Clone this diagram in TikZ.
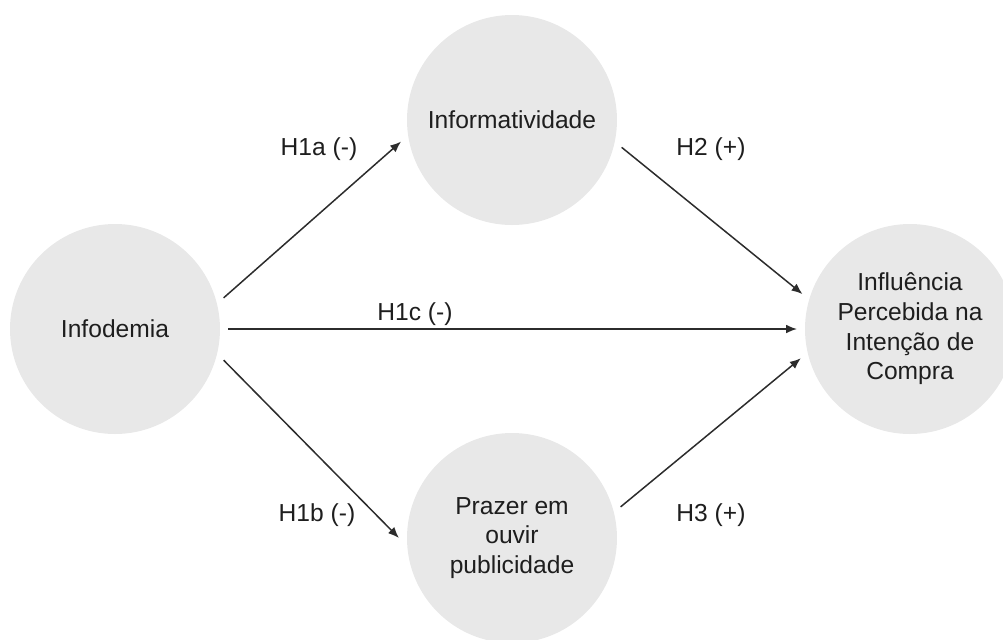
\documentclass[tikz,border=0pt]{standalone}
\usepackage{fontspec}
\setmainfont{Liberation Sans}
\usetikzlibrary{arrows.meta}
\definecolor{circlegray}{HTML}{E8E8E8}
\definecolor{textgray}{HTML}{1E1E1E}
\definecolor{linegray}{HTML}{2C2C2C}
\tikzset{
  construct/.style={align=center,circle,fill=circlegray,text=textgray,font=\fontsize{12.3}{14.85}\selectfont,minimum size=105pt,inner sep=0pt,outer sep=4pt},
  hyp/.style={align=center,text=textgray,font=\fontsize{12.3}{14.85}\selectfont},
  hypline/.style={-{Latex[length=5.5pt,width=4.4pt]},draw=linegray,line width=0.75pt}
}
\begin{document}
\begin{tikzpicture}[x=0.5pt,y=-0.5pt]
\useasboundingbox (0,0) rectangle (1003,639);

\draw(115,329) node[construct](1){Infodemia};

\draw(512,120) node[construct](2){Informatividade};

\draw(512,538) node[construct](3){Prazer em\\ouvir\\publicidade};

\draw(910,329) node[construct](4){Influência\\Percebida na\\Intenção de\\Compra};

\draw(319,149) node[hyp](5){H1a (-)};
\draw(711,149) node[hyp](6){H2 (+)};
\draw(415,314) node[hyp](7){H1c (-)};
\draw(317,515) node[hyp](8){H1b (-)};
\draw(711,515) node[hyp](9){H3 (+)};

\draw [hypline] (1.16) -- (2.191);
\draw [hypline] (1.0) -- (4.180);
\draw [hypline] (1.-16) -- (3.180);
\draw [hypline] (2.-14) -- (4.162);
\draw [hypline] (3.16) -- (4.195);

\end{tikzpicture}
\end{document}
